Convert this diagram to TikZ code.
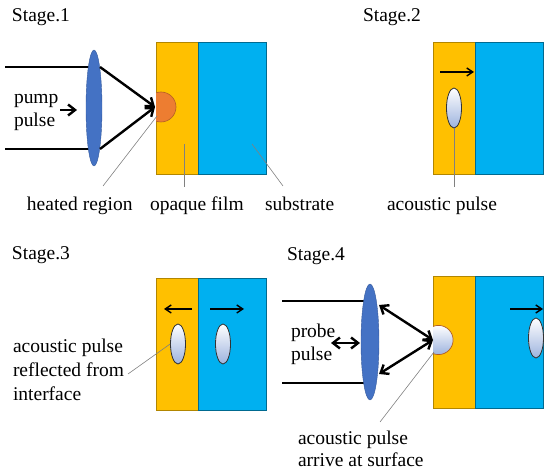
\documentclass[tikz,border=0pt]{standalone}
\usepackage{fontspec}
\setmainfont{Liberation Serif}
\usetikzlibrary{arrows.meta,shapes.geometric}
\definecolor{filmc}{HTML}{FFC000}
\definecolor{subsc}{HTML}{00B0F0}
\definecolor{lensc}{HTML}{4472C4}
\definecolor{heatc}{HTML}{ED7D31}
\definecolor{pulsec}{HTML}{9DB3DE}
\definecolor{leadc}{HTML}{808080}
\tikzset{
  lbl/.style={font=\fontsize{19.5}{24}\selectfont, inner sep=0pt, outer sep=0pt, anchor=base west},
  filmbox/.style={rectangle, fill=filmc, draw=filmc!70!black, line width=0.6pt, inner sep=0pt, outer sep=0pt, minimum width=42pt, minimum height=132pt, anchor=north west},
  subsbox/.style={rectangle, fill=subsc, draw=subsc!60!black, line width=0.6pt, inner sep=0pt, outer sep=0pt, minimum width=68pt, minimum height=132pt, anchor=north west},
  lensnode/.style={ellipse, fill=lensc, draw=lensc!80!black, line width=0.4pt, inner sep=0pt, minimum width=16pt, minimum height=116pt},
  pulsenode/.style={ellipse, top color=white, bottom color=pulsec, draw=black!80, line width=0.8pt, inner sep=0pt, minimum width=15pt, minimum height=40pt},
  beam/.style={line width=2.6pt},
  ray/.style={line width=2.4pt, -{Straight Barb[length=7pt,width=11pt]}},
  biray/.style={line width=2.4pt, {Straight Barb[length=7pt,width=11pt]}-{Straight Barb[length=7pt,width=11pt]}},
  motion/.style={line width=1.4pt, -{Straight Barb[length=6pt,width=8pt]}},
  leader/.style={draw=leadc, line width=0.6pt},
}
\begin{document}
\begin{tikzpicture}[x=1pt,y=-1pt]
\useasboundingbox (0,0) rectangle (550,476);

% ---------------- Stage 1 ----------------
\node[lbl] (s1) at (12,22) {Stage.1};
\node[filmbox] (film1) at (156,42) {};
\node[subsbox] (sub1) at (198,42) {};
\begin{scope}
  \clip (156,80) rectangle (200,135);
  \draw[fill=heatc, draw=heatc!75!black, line width=0.6pt] (161,107) circle[radius=15pt];
\end{scope}
\coordinate (heat1) at (157,116);
\draw[beam] (5,67) -- (94,67);
\draw[beam] (5,149) -- (94,149);
\node[lensnode] (lens1) at (94,108) {};
\coordinate (l1t) at (100,67);
\coordinate (l1b) at (100,149);
\coordinate (focus1) at (155,107);
\draw[ray] (l1t) -- (focus1);
\draw[ray] (l1b) -- (focus1);
\node[lbl] (pump) at (14,104) {pump};
\node[lbl] (pumppulse) at (14,127) {pulse};
\coordinate (pa1) at (60,110);
\coordinate (pa2) at (77,110);
\draw[ray] (pa1) -- (pa2);
\node[lbl] (heated) at (27,211) {heated region};
\node[lbl] (opaque) at (150,211) {opaque film};
\node[lbl] (substrate) at (265,211) {substrate};
\coordinate (hl) at (103,186);
\coordinate (ol1) at (184,144);
\coordinate (ol2) at (184,187);
\coordinate (sl1) at (252,144);
\coordinate (sl2) at (283,186);
\draw[leader] (hl) -- (heat1);
\draw[leader] (ol1) -- (ol2);
\draw[leader] (sl1) -- (sl2);

% ---------------- Stage 2 ----------------
\node[lbl] (s2) at (363,22) {Stage.2};
\node[filmbox] (film2) at (433,42) {};
\node[subsbox] (sub2) at (475,42) {};
\coordinate (m2a) at (440,72);
\coordinate (m2b) at (474,72);
\draw[motion] (m2a) -- (m2b);
\node[pulsenode] (pulse2) at (454,108) {};
\node[lbl] (ap2) at (387,211) {acoustic pulse};
\coordinate (al2) at (454,187);
\draw[leader] (pulse2.south) -- (al2);

% ---------------- Stage 3 ----------------
\node[lbl] (s3) at (12,260) {Stage.3};
\node[filmbox] (film3) at (156,278) {};
\node[subsbox] (sub3) at (198,278) {};
\coordinate (m3a) at (192,309);
\coordinate (m3b) at (164,309);
\coordinate (m3c) at (210,309);
\coordinate (m3d) at (244,309);
\draw[motion] (m3a) -- (m3b);
\draw[motion] (m3c) -- (m3d);
\node[pulsenode] (pulse3a) at (178,344) {};
\node[pulsenode] (pulse3b) at (223,344) {};
\node[lbl] (r3a) at (13,353) {acoustic pulse};
\node[lbl] (r3b) at (13,377) {reflected from};
\node[lbl] (r3c) at (13,401) {interface};
\coordinate (rl) at (128,374);
\draw[leader] (rl) -- (pulse3a.west);

% ---------------- Stage 4 ----------------
\node[lbl] (s4) at (287,261) {Stage.4};
\node[filmbox] (film4) at (433,276) {};
\node[subsbox] (sub4) at (475,276) {};
\begin{scope}
  \clip (433,310) rectangle (470,370);
  \draw[top color=white, bottom color=pulsec, draw=heatc!75!black, line width=0.7pt] (438.5,340) circle[radius=14.6pt];
\end{scope}
\coordinate (surf4) at (434,352);
\draw[beam] (282,301) -- (370,301);
\draw[beam] (282,383) -- (370,383);
\node[lensnode, minimum width=18pt] (lens4) at (370,342) {};
\coordinate (l4t) at (379,305);
\coordinate (l4b) at (379,374);
\coordinate (focus4) at (433,340);
\draw[biray] (l4t) -- (focus4);
\draw[biray] (l4b) -- (focus4);
\node[lbl] (probe) at (291,338) {probe};
\node[lbl] (probepulse) at (291,361) {pulse};
\coordinate (pb1) at (331,343);
\coordinate (pb2) at (360,343);
\draw[biray] (pb1) -- (pb2);
\coordinate (m4a) at (510,309);
\coordinate (m4b) at (543,309);
\draw[motion] (m4a) -- (m4b);
\node[pulsenode] (pulse4) at (536,338) {};
\node[lbl] (ar1) at (298,445) {acoustic pulse};
\node[lbl] (ar2) at (298,467) {arrive at surface};
\coordinate (arl) at (380,422);
\draw[leader] (arl) -- (surf4);
\end{tikzpicture}
\end{document}
